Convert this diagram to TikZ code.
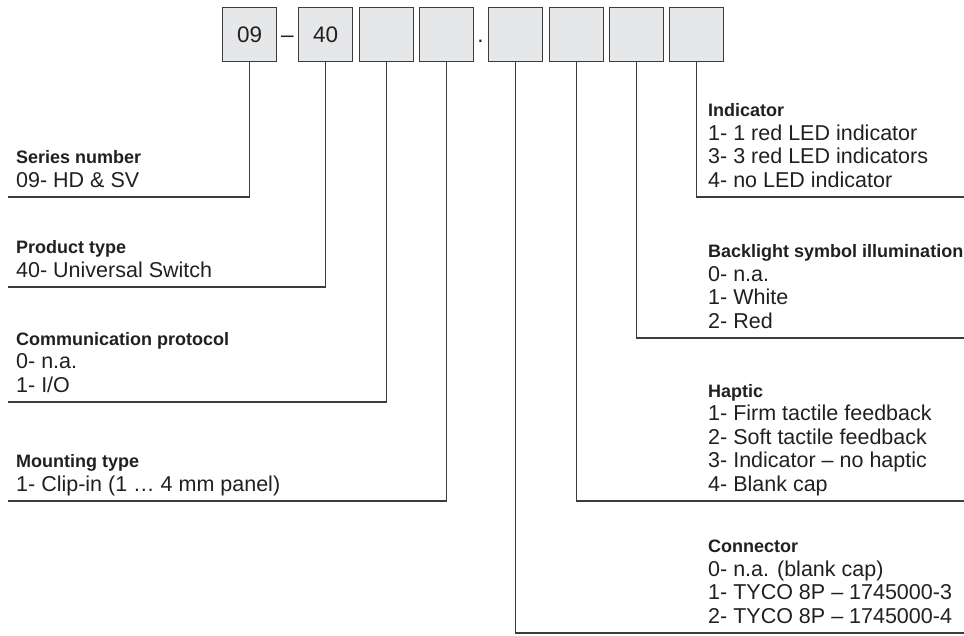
\documentclass[tikz,border=0pt]{standalone}
\usepackage{fontspec}
\setmainfont{Liberation Sans}
\definecolor{ink}{HTML}{231F20}
\definecolor{linec}{HTML}{3C3C3C}
\definecolor{boxfill}{HTML}{E6E7E8}
\newcommand{\hd}[1]{{\bfseries\fontsize{18}{23.5}\selectfont #1}}
\begin{document}
\begin{tikzpicture}[x=1pt,y=-1pt,
  codebox/.style={draw=linec, line width=1.3pt, fill=boxfill, minimum width=54pt, minimum height=54pt, inner sep=0pt, anchor=north west, text=ink, font=\fontsize{22.5}{24}\selectfont},
  lbl/.style={anchor=base west, inner sep=0pt, align=left, text=ink, font=\fontsize{21.5}{23.5}\selectfont},
  sep/.style={inner sep=0pt, text=ink, font=\fontsize{22.5}{24}\selectfont},
  wire/.style={draw=linec, line width=1.3pt}]
\useasboundingbox (0,0) rectangle (964,635);
% code boxes
\node[codebox] (b1) at (222,7) {09};
\node[codebox] (b2) at (298,7) {40};
\node[codebox] (b3) at (359,7) {};
\node[codebox] (b4) at (419,7) {};
\node[codebox] (b5) at (488,7) {};
\node[codebox] (b6) at (549,7) {};
\node[codebox] (b7) at (609,7) {};
\node[codebox] (b8) at (669,7) {};
\node[sep, anchor=base] (dash) at (287.5,42) {–};
\node[sep, anchor=base] (dot) at (480.5,42) {.};
% line ends
\coordinate (e1) at (8,197);
\coordinate (e2) at (8,287);
\coordinate (e3) at (8,402);
\coordinate (e4) at (8,501);
\coordinate (e5) at (964,633);
\coordinate (e6) at (964,501);
\coordinate (e7) at (964,338);
\coordinate (e8) at (964,197);
\draw[wire] (b1.south) |- (e1);
\draw[wire] (b2.south) |- (e2);
\draw[wire] (b3.south) |- (e3);
\draw[wire] (b4.south) |- (e4);
\draw[wire] (b5.south) |- (e5);
\draw[wire] (b6.south) |- (e6);
\draw[wire] (b7.south) |- (e7);
\draw[wire] (b8.south) |- (e8);
% labels (anchor = baseline of last line)
\node[lbl] (t1) at (16,187) {\hd{Series number}\\09- HD \& SV};
\node[lbl] (t2) at (16,277) {\hd{Product type}\\40- Universal Switch};
\node[lbl] (t3) at (16,392) {\hd{Communication protocol}\\0- n.a.\\1- I/O};
\node[lbl] (t4) at (16,491) {\hd{Mounting type}\\1- Clip-in (1 … 4 mm panel)};
\node[lbl] (t8) at (708,187) {\hd{Indicator}\\1- 1 red LED indicator\\3- 3 red LED indicators\\4- no LED indicator};
\node[lbl] (t7) at (708,328) {\hd{Backlight symbol illumination}\\0- n.a.\\1- White\\2- Red};
\node[lbl] (t6) at (708,491) {\hd{Haptic}\\1- Firm tactile feedback\\2- Soft tactile feedback\\3- Indicator – no haptic\\4- Blank cap};
\node[lbl] (t5) at (708,623) {\hd{Connector}\\0- n.a. (blank cap)\\1- TYCO 8P – 1745000-3\\2- TYCO 8P – 1745000-4};
\end{tikzpicture}
\end{document}
